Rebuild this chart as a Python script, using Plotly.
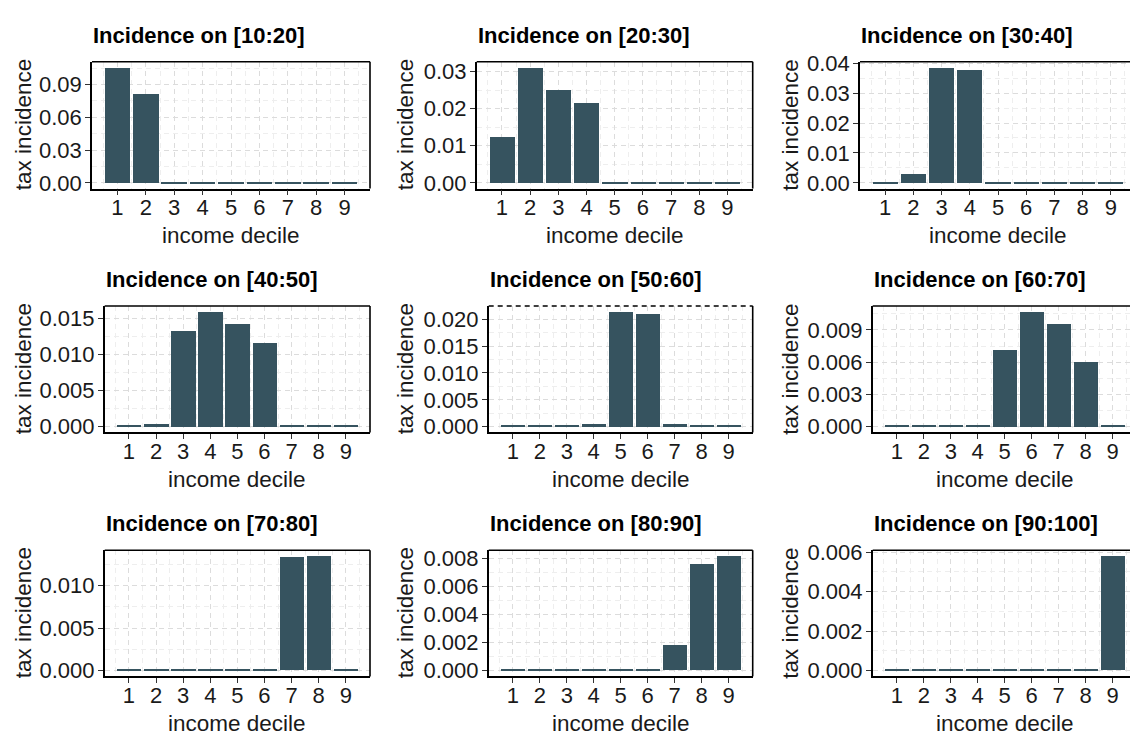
import plotly.graph_objects as go

W, H = 1130, 739

deciles = [1, 2, 3, 4, 5, 6, 7, 8, 9]
titles = ["Incidence on [10:20]", "Incidence on [20:30]", "Incidence on [30:40]",
          "Incidence on [40:50]", "Incidence on [50:60]", "Incidence on [60:70]",
          "Incidence on [70:80]", "Incidence on [80:90]", "Incidence on [90:100]"]

inc_10_20 = [0.1057, 0.0817, 0.0009, 0.0009, 0.0009, 0.0009, 0.0009, 0.0009, 0.0009]
inc_20_30 = [0.0124, 0.0311, 0.0251, 0.0216, 0.00026, 0.00026, 0.00026, 0.00026, 0.00026]
inc_30_40 = [0.0003, 0.0031, 0.0386, 0.0377, 0.0003, 0.0003, 0.0003, 0.0003, 0.0003]
inc_40_50 = [0.00013, 0.0004, 0.0133, 0.0159, 0.0142, 0.0116, 0.00013, 0.00013, 0.00013]
inc_50_60 = [0.00018, 0.00018, 0.00018, 0.0005, 0.0214, 0.0209, 0.0005, 0.00018, 0.00018]
inc_60_70 = [0.00009, 0.00009, 0.00009, 0.00009, 0.00715, 0.0107, 0.0096, 0.0060, 0.00009]
inc_70_80 = [0.00011, 0.00011, 0.00011, 0.00011, 0.00011, 0.00011, 0.0133, 0.0135, 0.00011]
inc_80_90 = [0.00007, 0.00007, 0.00007, 0.00007, 0.00007, 0.00007, 0.0018, 0.0076, 0.0082]
inc_90_100 = [0.00005, 0.00005, 0.00005, 0.00005, 0.00005, 0.00005, 0.00005, 0.00005, 0.0058]

series = [inc_10_20, inc_20_30, inc_30_40, inc_40_50, inc_50_60,
          inc_60_70, inc_70_80, inc_80_90, inc_90_100]

y_dticks = [0.03, 0.01, 0.01, 0.005, 0.005, 0.003, 0.005, 0.002, 0.002]
y_formats = [".2f", ".2f", ".2f", ".3f", ".3f", ".3f", ".3f", ".3f", ".3f"]

x_title = "income decile"
y_title = "tax incidence"

# layout geometry (pixels)
lefts = [[92, 476.7, 860], [104.7, 488.7, 872.7], [104.7, 488.7, 872.7]]
rights = [370, 752.7, 1136.5]
tops = [52, 302.3, 552.7]
bottoms = [182, 432, 682]
ytitle_x = [23, 405, 790.5]

BAR = "#36535f"
FONT = "Liberation Sans, Arial, sans-serif"
MAJ = "#dcdcdc"
MIN = "#eeeeee"


def px_x(v):
    return v / W


def px_y(v):
    return 1 - v / H


fig = go.Figure()
shapes = []
annotations = []
layout = {}

for i, vals in enumerate(series):
    r, c = divmod(i, 3)
    n = i + 1
    sfx = "" if n == 1 else str(n)
    L = lefts[r][c]
    R_nom = rights[c] if c < 2 else L + (rights[1] - lefts[r][1])
    R_vis = min(R_nom, W)
    T, B = tops[r], bottoms[r]
    lo = 0.105
    span = 9.79
    hi = lo + span * (R_vis - L) / (R_nom - L)
    M = max(vals)

    fig.add_trace(go.Bar(x=deciles, y=vals, width=0.9,
                         marker=dict(color=BAR, line=dict(width=0)),
                         xaxis="x" + sfx, yaxis="y" + sfx, showlegend=False,
                         hoverinfo="x+y"))

    layout["xaxis" + sfx] = dict(
        domain=[px_x(L), px_x(R_vis)], anchor="y" + sfx, range=[lo, hi],
        tickmode="linear", tick0=1, dtick=1,
        ticks="outside", ticklen=5, tickwidth=1.2, tickcolor="#333333",
        ticklabelstandoff=-7,
        showline=True, linecolor="#000000", linewidth=1.6,
        showgrid=True, gridcolor=MAJ, gridwidth=1, griddash="5px,4px",
        minor=dict(tickmode="linear", tick0=0.5, dtick=0.5, showgrid=True,
                   gridcolor=MIN, gridwidth=1, griddash="5px,4px", ticks=""),
        zeroline=False, fixedrange=True,
        tickfont=dict(family=FONT, size=22, color="#1a1a1a"),
    )
    d = y_dticks[i]
    layout["yaxis" + sfx] = dict(
        domain=[px_y(B), px_y(T)], anchor="x" + sfx, range=[-0.05 * M, 1.05 * M],
        tickmode="linear", tick0=0, dtick=d, tickformat=y_formats[i],
        ticks="outside", ticklen=5, tickwidth=1.2, tickcolor="#333333",
        ticklabelstandoff=-1,
        showline=True, linecolor="#000000", linewidth=1.6,
        showgrid=True, gridcolor=MAJ, gridwidth=1, griddash="5px,4px",
        minor=dict(tickmode="linear", tick0=d / 2, dtick=d, showgrid=True,
                   gridcolor=MIN, gridwidth=1, griddash="5px,4px", ticks=""),
        zeroline=False, fixedrange=True,
        tickfont=dict(family=FONT, size=22, color="#1a1a1a"),
    )

    # top border
    shapes.append(dict(type="line", xref="x%s domain" % sfx, yref="y%s domain" % sfx,
                       x0=0, x1=1, y0=1, y1=1,
                       line=dict(color="#000000", width=1.6,
                                 dash="5px,4px" if n == 5 else "solid")))
    # right border
    if c < 2:
        shapes.append(dict(type="line", xref="x%s domain" % sfx, yref="y%s domain" % sfx,
                           x0=1, x1=1, y0=0, y1=1,
                           line=dict(color="#000000", width=1.6)))

    # panel title
    annotations.append(dict(text="<b>%s</b>" % titles[i], xref="paper", yref="paper",
                            x=px_x(L - 1), y=px_y(T - 27), xanchor="left", yanchor="middle",
                            showarrow=False,
                            font=dict(family=FONT, size=22, color="#000000")))
    # x axis title
    annotations.append(dict(text=x_title, xref="paper", yref="paper",
                            x=px_x((L + R_nom) / 2), y=px_y(B + 48),
                            xanchor="center", yanchor="middle", showarrow=False,
                            font=dict(family=FONT, size=22.5, color="#1a1a1a")))
    # y axis title
    annotations.append(dict(text=y_title, xref="paper", yref="paper",
                            x=px_x(ytitle_x[c]), y=px_y((T + B) / 2), textangle=-90,
                            xanchor="center", yanchor="middle", showarrow=False,
                            font=dict(family=FONT, size=22.5, color="#1a1a1a")))

fig.update_layout(
    width=W, height=H,
    margin=dict(l=0, r=0, t=0, b=0),
    paper_bgcolor="#ffffff", plot_bgcolor="#ffffff",
    bargap=0, showlegend=False,
    shapes=shapes, annotations=annotations,
    font=dict(family=FONT),
    **layout,
)

fig.write_html("out.html", config={"displayModeBar": False})
